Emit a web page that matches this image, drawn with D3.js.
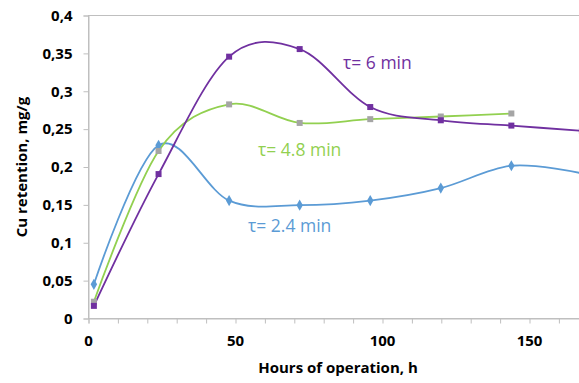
<!DOCTYPE html>
<html>
<head>
<meta charset="utf-8">
<script src="https://cdn.jsdelivr.net/npm/d3@7"></script>
<style>
  html, body { margin: 0; padding: 0; background: #fff; }
  svg { display: block; }
</style>
</head>
<body>
<svg id="chart" width="579" height="383"></svg>
<script>
// Sampling times (h)
const hours = [2, 24, 48, 72, 96, 120, 144];
const hoursLong = [2, 24, 48, 72, 96, 120, 144, 168];

// Cu retention (mg/g) for each residence time
const tau6 = [0.016, 0.19, 0.345, 0.355, 0.2785, 0.261, 0.254, 0.247];
const tau48 = [0.0215, 0.2205, 0.282, 0.2575, 0.2625, 0.266, 0.270];
const tau24 = [0.0445, 0.228, 0.155, 0.149, 0.155, 0.1715, 0.201, 0.191];

const yTicks = [0, 0.05, 0.1, 0.15, 0.2, 0.25, 0.3, 0.35, 0.4];
const xTicks = [0, 50, 100, 150];

const seriesDefs = [
  { name: "τ= 2.4 min", x: hoursLong, y: tau24, line: "#5b9bd5", marker: "#5b9bd5", shape: "diamond", label: [248, 232] },
  { name: "τ= 4.8 min", x: hours, y: tau48, line: "#92d050", marker: "#a5a5a5", shape: "square", label: [258, 156] },
  { name: "τ= 6 min", x: hoursLong, y: tau6, line: "#7030a0", marker: "#7030a0", shape: "square", label: [343, 69] }
];

const svg = d3.select("#chart");
const plotLeft = 88, plotTop = 15, plotBottom = 318;
const xPerUnit = 2.94;

const x = d3.scaleLinear().domain([0, 200]).range([plotLeft, plotLeft + 200 * xPerUnit]);
const y = d3.scaleLinear().domain([0, 0.4]).range([plotBottom, plotTop]);

const axisColor = "#bfbfbf";
const fmt = v => String(+v.toFixed(2)).replace(".", ",");

// Plot area frame
svg.append("rect")
  .attr("x", plotLeft + 0.5).attr("y", plotTop + 0.5)
  .attr("width", x(200) - plotLeft).attr("height", plotBottom - plotTop)
  .attr("fill", "none").attr("stroke", axisColor).attr("stroke-width", 1);

// Y axis
const yAxis = d3.axisLeft(y).tickValues(yTicks).tickSize(5).tickPadding(11).tickFormat(fmt);
const gy = svg.append("g").attr("transform", `translate(${plotLeft + 0.5},0.5)`).call(yAxis);
gy.select(".domain").attr("stroke", axisColor);
gy.selectAll(".tick line").attr("stroke", axisColor);
gy.selectAll(".tick text")
  .attr("font-family", "'Open Sans', sans-serif")
  .attr("font-size", 15).attr("font-weight", "bold").attr("fill", "#000");

// X axis: labelled majors every 50, minor ticks every 10
const xMinor = d3.range(0, 201, 10);
const gxMinor = svg.append("g").attr("transform", `translate(0.5,${plotBottom + 0.5})`)
  .call(d3.axisBottom(x).tickValues(xMinor).tickSize(5).tickFormat(""));
gxMinor.select(".domain").attr("stroke", axisColor);
gxMinor.selectAll(".tick line").attr("stroke", axisColor);

const gx = svg.append("g").attr("transform", `translate(0,${plotBottom})`)
  .call(d3.axisBottom(x).tickValues(xTicks).tickSize(0).tickPadding(17).tickFormat(d => d));
gx.select(".domain").remove();
gx.selectAll(".tick text")
  .attr("font-family", "'Open Sans', sans-serif")
  .attr("font-size", 15).attr("font-weight", "bold").attr("fill", "#000");

// Axis titles
svg.append("text")
  .attr("x", 338).attr("y", 373)
  .attr("text-anchor", "middle")
  .attr("font-family", "'Open Sans', sans-serif")
  .attr("font-size", 15).attr("font-weight", "bold").attr("fill", "#000")
  .text("Hours of operation, h");

svg.append("text")
  .attr("transform", "translate(27,167) rotate(-90)")
  .attr("text-anchor", "middle")
  .attr("font-family", "'Open Sans', sans-serif")
  .attr("font-size", 15).attr("font-weight", "bold").attr("fill", "#000")
  .text("Cu retention, mg/g");

// Smoothed series lines
const line = d3.line()
  .x(d => x(d[0])).y(d => y(d[1]))
  .curve(d3.curveCardinal.tension(0));

const plot = svg.append("g");
seriesDefs.forEach(s => {
  const pts = s.x.map((h, i) => [h, s.y[i]]);
  plot.append("path")
    .datum(pts)
    .attr("d", line)
    .attr("fill", "none")
    .attr("stroke", s.line)
    .attr("stroke-width", 1.8);
});

// Markers
const sym = {
  square: d3.symbol().type(d3.symbolSquare).size(36),
  diamond: d3.symbol().type(d3.symbolDiamond).size(36)
};
seriesDefs.forEach(s => {
  const pts = s.x.map((h, i) => [h, s.y[i]]);
  plot.selectAll(null)
    .data(pts)
    .join("path")
    .attr("transform", d => `translate(${x(d[0])},${y(d[1])})`)
    .attr("d", sym[s.shape])
    .attr("fill", s.marker);
});

// Series labels
seriesDefs.forEach(s => {
  svg.append("text")
    .attr("x", s.label[0]).attr("y", s.label[1])
    .attr("font-family", "'Open Sans', sans-serif")
    .attr("font-size", 17.5)
    .attr("fill", s.line)
    .text(s.name);
});
</script>
</body>
</html>
